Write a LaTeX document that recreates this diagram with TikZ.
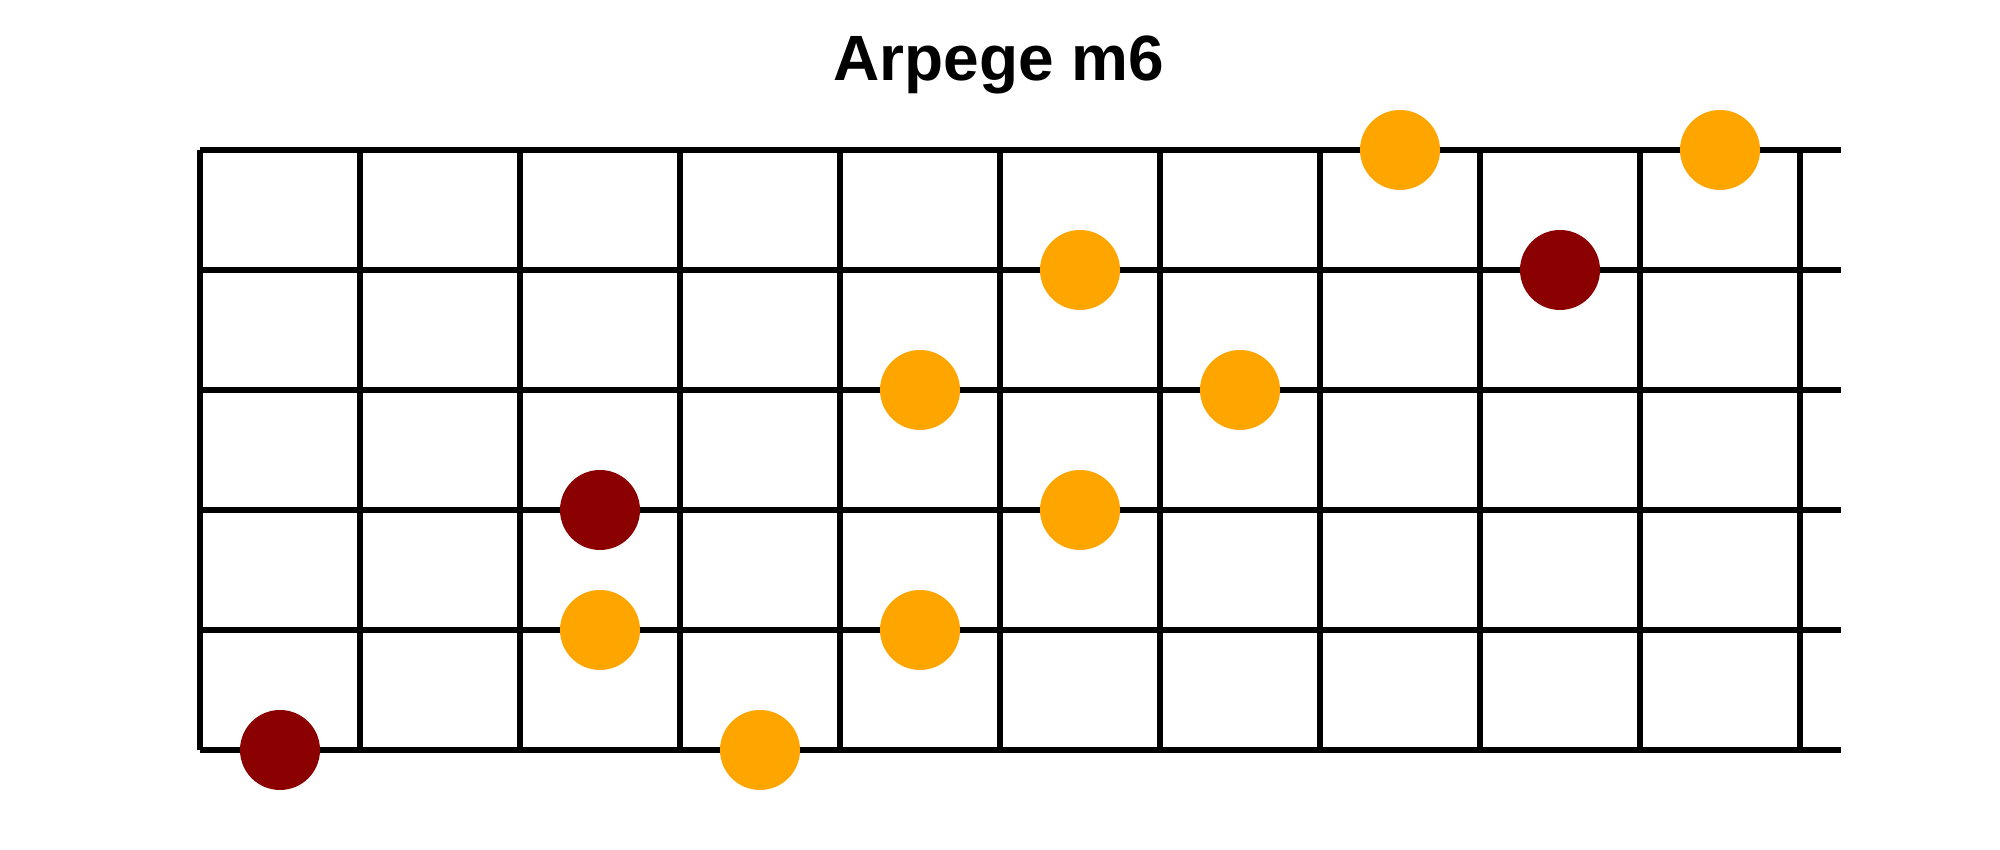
\documentclass[tikz,border=0pt]{standalone}
\usepackage{fontspec}
\setmainfont{Liberation Sans}
\begin{document}
\begin{tikzpicture}[x=1pt,y=1pt,
  gridline/.style={line width=6pt,black},
  root/.style={circle,fill={rgb,255:red,139;green,0;blue,0},minimum size=80pt,inner sep=0pt},
  tone/.style={circle,fill={rgb,255:red,255;green,165;blue,0},minimum size=80pt,inner sep=0pt}]
\useasboundingbox (0,0) rectangle (2000,850);
% strings
\foreach \s in {0,...,5} {
  \draw[gridline] (200,{700-120*\s}) -- (1841,{700-120*\s});
}
% frets
\foreach \f in {0,...,10} {
  \draw[gridline] ({200+160*\f},700) -- ({200+160*\f},100);
}
% title
\node[anchor=base,font=\bfseries\fontsize{64}{68}\selectfont] (title) at (999,769) {Arpege m6};
% dots
\node[tone] (d1) at (1400,700) {};
\node[tone] (d2) at (1720,700) {};
\node[tone] (d3) at (1080,580) {};
\node[root] (d4) at (1560,580) {};
\node[tone] (d5) at (920,460) {};
\node[tone] (d6) at (1240,460) {};
\node[root] (d7) at (600,340) {};
\node[tone] (d8) at (1080,340) {};
\node[tone] (d9) at (600,220) {};
\node[tone] (d10) at (920,220) {};
\node[root] (d11) at (280,100) {};
\node[tone] (d12) at (760,100) {};
\end{tikzpicture}
\end{document}
